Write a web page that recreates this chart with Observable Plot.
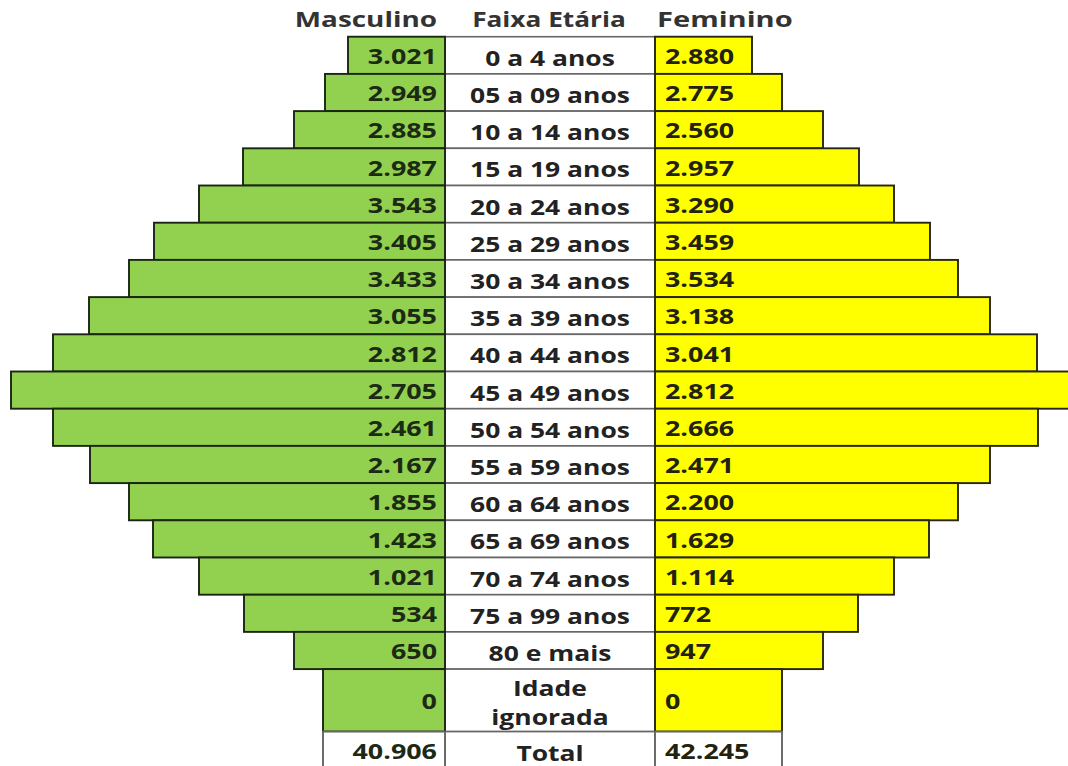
<!DOCTYPE html>
<html><head><meta charset="utf-8">
<script src="https://cdn.jsdelivr.net/npm/d3@7"></script>
<script src="https://cdn.jsdelivr.net/npm/@observablehq/plot@0.6"></script>
<style>
html,body{margin:0;padding:0;background:#fff;overflow:hidden;}
svg text{font-family:"Open Sans",sans-serif;font-weight:700;}
</style></head><body><div id="chart"></div>
<script>
// Categories (age groups) and series values
const ageGroups = ["0 a 4 anos","05 a 09 anos","10 a 14 anos","15 a 19 anos","20 a 24 anos","25 a 29 anos","30 a 34 anos","35 a 39 anos","40 a 44 anos","45 a 49 anos","50 a 54 anos","55 a 59 anos","60 a 64 anos","65 a 69 anos","70 a 74 anos","75 a 99 anos","80 e mais","Idade ignorada","Total"];
const maleValues = [3021,2949,2885,2987,3543,3405,3433,3055,2812,2705,2461,2167,1855,1423,1021,534,650,0,40906];
const femaleValues = [2880,2775,2560,2957,3290,3459,3534,3138,3041,2812,2666,2471,2200,1629,1114,772,947,0,42245];
// Decorative bar extents as drawn in the picture (not proportional to the values)
const maleShape = [97,120,151,202,246,291,316,356,392,434,392,355,316,292,246,201,151,122,122];
const femaleShape = [97,127,168,204,239,275,303,335,382,430,383,335,303,274,239,203,168,127,127];
const headers = ["Masculino","Faixa Etária","Feminino"];

const fmt = d3.formatLocale({decimal:",",thousands:".",grouping:[3],currency:["R$",""]}).format(",d");
const HALF = 105;
const XDOMAIN = [-550, 518], XRANGE = [0, 1068];
let acc = 0;
const rows = ageGroups.map((g,i) => {
  const lines = g === "Idade ignorada" ? g.split(" ") : [g];
  const h = lines.length > 1 ? 1.68 : 1;
  const r = {group:g, label:lines.join("\n"), male:maleValues[i], female:femaleValues[i],
             ms:maleShape[i], fs:femaleShape[i], y1:acc, y2:acc+h, total:g==="Total"};
  acc += h;
  return r;
});
const mid = d => (d.y1 + d.y2) / 2;
const HY = -0.45;
const FS = 21;

const chart = Plot.plot({
  width:1068, height:766,
  marginTop:0, marginBottom:0, marginLeft:0, marginRight:0,
  x:{domain:XDOMAIN, range:XRANGE, axis:null},
  y:{domain:[-0.987,19.605], range:[0,766], axis:null},
  style:{background:"#fff", fontSize:FS+"px"},
  marks:[
    Plot.rect(rows,{x1:-HALF, x2:HALF, y1:"y1", y2:"y2", fill:"#fff", stroke:"#666", strokeWidth:1.6}),
    Plot.rect(rows,{x1:d=>-HALF-d.ms, x2:-HALF, y1:"y1", y2:"y2",
      fill:d=>d.total?"#fff":"#92d050", stroke:d=>d.total?"#666":"#1a2612", strokeWidth:1.9}),
    Plot.rect(rows,{x1:HALF, x2:d=>HALF+d.fs, y1:"y1", y2:"y2",
      fill:d=>d.total?"#fff":"#ffff00", stroke:d=>d.total?"#666":"#262612", strokeWidth:1.9}),
    Plot.text(rows,{x:0, y:mid, text:"label", fill:"#222", fontSize:FS, lineHeight:1.4, textAnchor:"middle", ariaDescription:"labels"}),
    Plot.text(rows,{x:-HALF, y:mid, text:d=>fmt(d.male), textAnchor:"end", fill:"#1c2a14", fontSize:FS, ariaDescription:"male-values"}),
    Plot.text(rows,{x:HALF, y:mid, text:d=>fmt(d.female), textAnchor:"start", fill:"#22220e", fontSize:FS, ariaDescription:"female-values"}),
    Plot.text([headers[0]],{x:-HALF, y:HY, text:d=>d, textAnchor:"end", fill:"#333", fontSize:20.5, ariaDescription:"header-m"}),
    Plot.text([headers[1]],{x:0, y:HY, text:d=>d, textAnchor:"middle", fill:"#333", fontSize:20.5, ariaDescription:"header-c"}),
    Plot.text([headers[2]],{x:HALF, y:HY, text:d=>d, textAnchor:"start", fill:"#333", fontSize:20.5, ariaDescription:"header-f"})
  ]
});
document.getElementById("chart").appendChild(chart);

// Horizontal stretch of the text groups around their anchor (the reference glyphs are wide)
const xs = d3.scaleLinear(XDOMAIN, XRANGE);
const textGroups = Array.from(chart.querySelectorAll('g[aria-label="text"]'));
const order = ["labels","male-values","female-values","header-m","header-c","header-f"];
function stretch(label, xv, dx, s, dy = 0) {
  let g = chart.querySelector(`g[aria-description="${label}"]`);
  if (!g) g = textGroups[order.indexOf(label)];
  if (!g) return;
  const ox = xs(xv);
  g.setAttribute("transform", `translate(${ox + dx},${dy}) scale(${s},1) translate(${-ox},0)`);
}
stretch("labels", 0, 0, 1.26, 1);
stretch("male-values", -HALF, -8, 1.28, 2);
stretch("female-values", HALF, 10, 1.28, 2);
stretch("header-m", -HALF, -8, 1.36);
stretch("header-c", 0, -1, 1.28);
stretch("header-f", HALF, 2, 1.42);
</script></body></html>
